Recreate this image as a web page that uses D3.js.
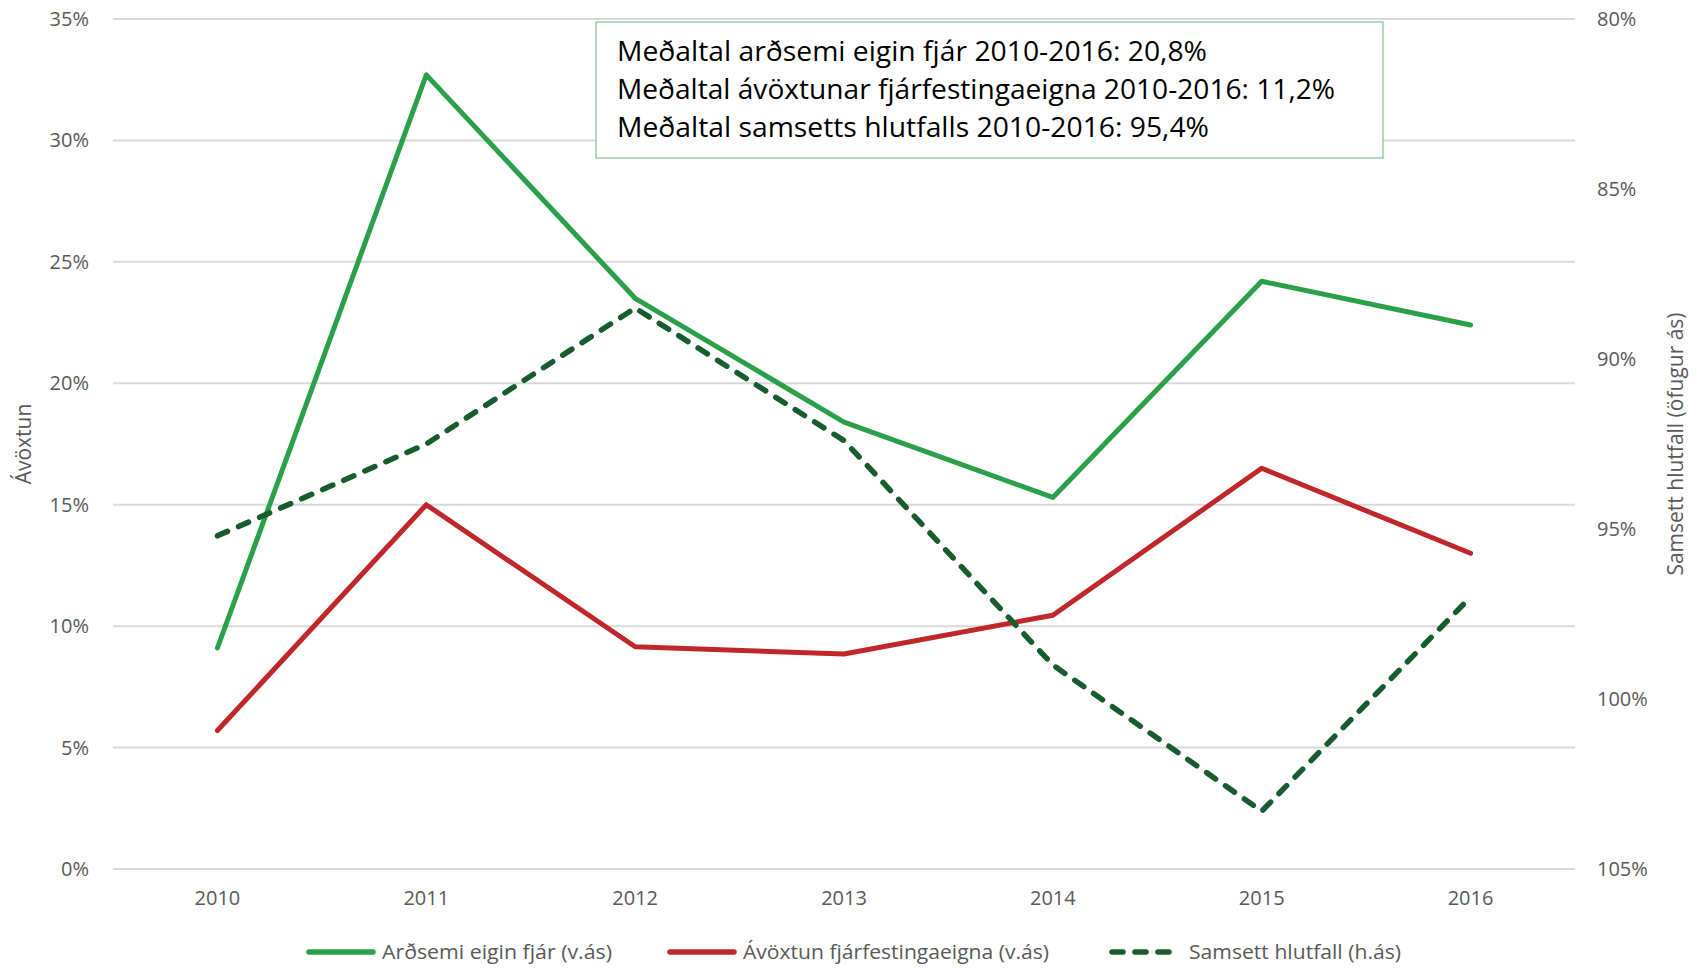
<!DOCTYPE html>
<html>
<head>
<meta charset="utf-8">
<script src="https://cdn.jsdelivr.net/npm/d3@7"></script>
<style>
  html, body { margin: 0; padding: 0; background: #fff; }
  svg { display: block; font-family: 'Open Sans', sans-serif; }
</style>
</head>
<body>
<svg id="chart" width="1699" height="968" viewBox="0 0 1699 968"></svg>
<script>
'use strict';

/* global d3 */

var years = ['2010', '2011', '2012', '2013', '2014', '2015', '2016'];
// left axis, percent
var ardsemi = [9.1, 32.7, 23.5, 18.4, 15.3, 24.2, 22.4];
var avoxtun = [5.7, 15.0, 9.15, 8.85, 10.45, 16.5, 13.0];
// right axis (reversed), percent
var samsett = [95.2, 92.5, 88.5, 92.4, 99.0, 103.3, 97.0];

var leftTicks = [0, 5, 10, 15, 20, 25, 30, 35];
var rightTicks = [80, 85, 90, 95, 100, 105];

var seriesNames = ['Arðsemi eigin fjár (v.ás)', 'Ávöxtun fjárfestingaeigna (v.ás)', 'Samsett hlutfall (h.ás)'];
var boxLines = [
  'Meðaltal arðsemi eigin fjár 2010-2016: 20,8%',
  'Meðaltal ávöxtunar fjárfestingaeigna 2010-2016: 11,2%',
  'Meðaltal samsetts hlutfalls 2010-2016: 95,4%'
];

(function () {
  var svg = d3.select('#chart');
  var margins = { top: 19, right: 124, bottom: 99, left: 113 };
  var width = 1699 - margins.left - margins.right;
  var height = 968 - margins.top - margins.bottom;

  var green = '#2ba04a';
  var red = '#c0272b';
  var dark = '#175c2e';
  var textCol = '#595959';

  var g = svg.append('g').attr('transform', 'translate(' + margins.left + ',' + margins.top + ')');

  var x = d3.scaleBand().domain(years).range([0, width]);
  var yL = d3.scaleLinear().domain([0, 35]).range([height, 0]);
  var yR = d3.scaleLinear().domain([80, 105]).range([0, height]);

  // gridlines
  g.append('g').selectAll('line').data(leftTicks).enter().append('line')
    .attr('x1', 0).attr('x2', width)
    .attr('y1', function (d) { return yL(d); })
    .attr('y2', function (d) { return yL(d); })
    .attr('stroke', '#d9d9d9').attr('stroke-width', 2);

  // left axis labels
  g.append('g').selectAll('text').data(leftTicks).enter().append('text')
    .attr('x', -24).attr('y', function (d) { return yL(d); })
    .attr('dy', '0.35em').attr('text-anchor', 'end')
    .attr('font-size', 20).attr('fill', textCol)
    .text(function (d) { return d + '%'; });

  // right axis labels
  g.append('g').selectAll('text').data(rightTicks).enter().append('text')
    .attr('x', width + 22).attr('y', function (d) { return yR(d); })
    .attr('dy', '0.35em').attr('text-anchor', 'start')
    .attr('font-size', 20).attr('fill', textCol)
    .text(function (d) { return d + '%'; });

  // x labels
  g.append('g').selectAll('text').data(years).enter().append('text')
    .attr('x', function (d) { return x(d) + x.bandwidth() / 2; })
    .attr('y', height + 29).attr('dy', '0.35em').attr('text-anchor', 'middle')
    .attr('font-size', 20).attr('fill', textCol)
    .text(function (d) { return d; });

  // axis titles
  svg.append('text')
    .attr('transform', 'translate(24,' + (margins.top + height / 2) + ') rotate(-90)')
    .attr('text-anchor', 'middle').attr('dy', '0.35em')
    .attr('font-size', 21).attr('fill', textCol).text('Ávöxtun');
  svg.append('text')
    .attr('transform', 'translate(1676,' + (margins.top + height / 2) + ') rotate(-90)')
    .attr('text-anchor', 'middle').attr('dy', '0.35em')
    .attr('font-size', 21).attr('fill', textCol).text('Samsett hlutfall (öfugur ás)');

  var cx = function (d, i) { return x(years[i]) + x.bandwidth() / 2; };
  var lineL = d3.line().x(cx).y(function (d) { return yL(d); });
  var lineR = d3.line().x(cx).y(function (d) { return yR(d); });

  g.append('path').datum(ardsemi).attr('d', lineL)
    .attr('fill', 'none').attr('stroke', green).attr('stroke-width', 5)
    .attr('stroke-linejoin', 'round').attr('stroke-linecap', 'round');
  g.append('path').datum(avoxtun).attr('d', lineL)
    .attr('fill', 'none').attr('stroke', red).attr('stroke-width', 5)
    .attr('stroke-linejoin', 'round').attr('stroke-linecap', 'round');
  g.append('path').datum(samsett).attr('d', lineR)
    .attr('fill', 'none').attr('stroke', dark).attr('stroke-width', 5.5)
    .attr('stroke-dasharray', '11,12')
    .attr('stroke-linejoin', 'round').attr('stroke-linecap', 'round');

  // text box
  var box = svg.append('g').attr('transform', 'translate(596,22)');
  box.append('rect').attr('width', 787).attr('height', 136)
    .attr('fill', '#fff').attr('stroke', '#7cc48a').attr('stroke-width', 1.2);
  var boxWidths = [590, 718, 592];
  box.selectAll('text').data(boxLines).enter().append('text')
    .attr('x', 21).attr('y', function (d, i) { return 30 + i * 38; })
    .attr('dy', '0.35em').attr('font-size', 27).attr('fill', '#000')
    .attr('textLength', function (d, i) { return boxWidths[i]; })
    .attr('lengthAdjust', 'spacingAndGlyphs')
    .text(function (d) { return d; });

  // legend
  var legendY = 952;
  var legendX = [309, 670, 1112];
  var legendW = [230, 306, 212];
  var colors = [green, red, dark];
  var leg = svg.append('g').selectAll('g').data(seriesNames).enter().append('g')
    .attr('transform', function (d, i) { return 'translate(' + legendX[i] + ',' + legendY + ')'; });
  leg.append('line').attr('x1', 0).attr('x2', 64).attr('y1', 0).attr('y2', 0)
    .attr('stroke', function (d, i) { return colors[i]; })
    .attr('stroke-width', 5.5).attr('stroke-linecap', 'round')
    .attr('stroke-dasharray', function (d, i) { return i === 2 ? '11,12' : null; });
  leg.append('text').attr('x', function (d, i) { return i === 2 ? 77 : 73; })
    .attr('dy', '0.35em').attr('font-size', 20).attr('fill', textCol)
    .attr('textLength', function (d, i) { return legendW[i]; })
    .attr('lengthAdjust', 'spacingAndGlyphs')
    .text(function (d) { return d; });
})();
</script>
</body>
</html>
